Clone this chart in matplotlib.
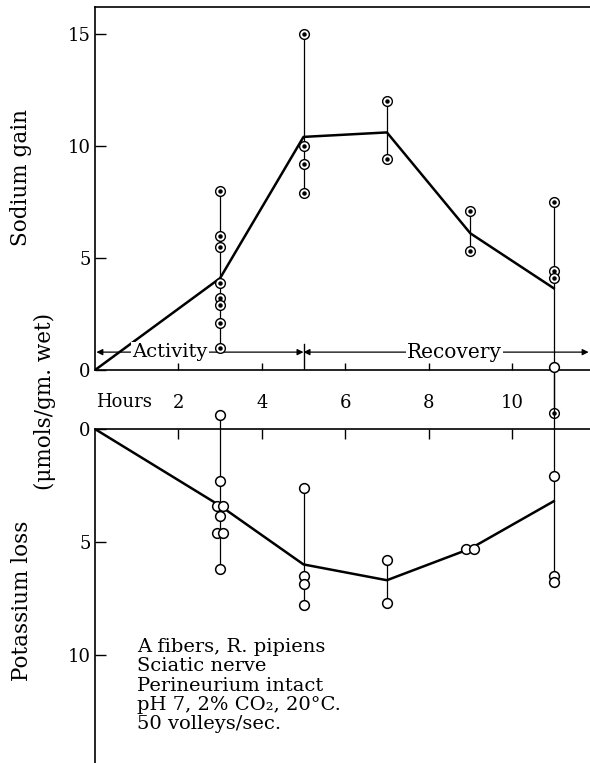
"""
Sodium gain / potassium loss of frog sciatic nerve during and after activity.
Two stacked panels sharing the hours axis; the lower one is drawn downwards.
"""

import numpy as np
import pandas as pd
import matplotlib
matplotlib.use("Agg")
import matplotlib.pyplot as plt

plt.rcParams["font.family"] = ["DejaVu Serif"]

# -- data --
na_pts_t = [3, 3, 3, 3, 3, 3, 3, 3, 5, 5, 5, 5, 7, 7, 9, 9, 11, 11, 11, 11]
na_pts_v = [8.0, 6.0, 5.5, 3.9, 3.2, 2.9, 2.1, 1.0,
            15.0, 10.0, 9.2, 7.9, 12.0, 9.4, 7.1, 5.3, 7.5, 4.4, 4.1, -1.9]
na_mean_t = [0, 3, 5, 7, 9, 11]
na_mean_v = [0, 4.1, 10.4, 10.6, 6.1, 3.65]

k_pts_t = [3, 3, 2.92, 3.08, 3, 2.92, 3.08, 3, 5, 5, 5, 5, 7, 7, 8.9, 9.1, 11, 11, 11, 11]
k_pts_v = [-0.6, 2.3, 3.4, 3.4, 3.85, 4.6, 4.6, 6.2,
           2.6, 6.5, 6.85, 7.8, 5.8, 7.7, 5.3, 5.3, -2.75, 2.1, 6.5, 6.8]
k_mean_t = [0, 3, 5, 7, 9, 11]
k_mean_v = [0, 3.4, 6.0, 6.7, 5.3, 3.2]

hour_ticks = [2, 4, 6, 8, 10]
na_ticks = [0, 5, 10, 15]
k_ticks = [0, 5, 10]
activity_end = 5

notes = ("A fibers, R. pipiens\nSciatic nerve\nPerineurium intact\n"
         "pH 7, 2% CO\u2082, 20\u00b0C.\n50 volleys/sec.")

XMAX = 11.87


def ranges(t, v):
    df = pd.DataFrame({"t": np.round(t), "v": v})
    return df.groupby("t")["v"].agg(["min", "max"]).reset_index()


fig = plt.figure(figsize=(5.9, 7.63), dpi=100)
ax1 = fig.add_axes([0.161, 0.515, 0.839, 0.476])
ax2 = fig.add_axes([0.161, 0.0, 0.839, 0.4377])

# -- Top panel: sodium gain --
for _, r in ranges(na_pts_t, na_pts_v).iterrows():
    ax1.plot([r["t"], r["t"]], [r["min"], r["max"]], color="black", lw=0.9, clip_on=False, zorder=2)
ax1.plot(na_mean_t, na_mean_v, color="black", lw=1.8, zorder=3)
ax1.plot(na_pts_t, na_pts_v, "o", ms=7, mfc="white", mec="black", mew=1.0, clip_on=False, zorder=4)
ax1.plot(na_pts_t, na_pts_v, "o", ms=2.2, color="black", clip_on=False, zorder=5)

ax1.set_xlim(0, XMAX)
ax1.set_ylim(0, 16.2)
ax1.spines["right"].set_visible(False)
ax1.set_xticks(hour_ticks)
ax1.set_xticklabels([])
ax1.tick_params(axis="x", direction="in", length=5, width=1)
ax1.set_yticks(na_ticks)
ax1.set_yticklabels([str(v) for v in na_ticks], fontsize=13)
ax1.tick_params(axis="y", direction="in", length=8, width=1, pad=3)
for s in ax1.spines.values():
    s.set_linewidth(1.2)

# activity / recovery arrows
arr_y = 0.8
ax1.plot([activity_end, activity_end], [0, 1.15], color="black", lw=1.0)
ax1.annotate("", xy=(0, arr_y), xytext=(activity_end, arr_y),
             arrowprops=dict(arrowstyle="<|-|>", color="black", lw=0.9, mutation_scale=9,
                             shrinkA=0, shrinkB=1))
ax1.annotate("", xy=(activity_end, arr_y), xytext=(XMAX, arr_y),
             arrowprops=dict(arrowstyle="<|-|>", color="black", lw=0.9, mutation_scale=9,
                             shrinkA=1, shrinkB=0), annotation_clip=False)
ax1.text(1.8, arr_y, "Activity", ha="center", va="center", fontsize=14,
         bbox=dict(facecolor="white", edgecolor="none", pad=1), zorder=6)
ax1.text(8.62, arr_y, "Recovery", ha="center", va="center", fontsize=14.5,
         bbox=dict(facecolor="white", edgecolor="none", pad=1), zorder=6)

# -- Bottom panel: potassium loss (downwards) --
for _, r in ranges(k_pts_t, k_pts_v).iterrows():
    ax2.plot([r["t"], r["t"]], [r["min"], r["max"]], color="black", lw=0.9, clip_on=False, zorder=2)
ax2.plot(k_mean_t, k_mean_v, color="black", lw=1.8, zorder=3)
ax2.plot(k_pts_t, k_pts_v, "o", ms=7, mfc="white", mec="black", mew=1.1, clip_on=False, zorder=4)

ax2.set_xlim(0, XMAX)
ax2.set_ylim(14.8, 0)
ax2.spines["right"].set_visible(False)
ax2.spines["bottom"].set_visible(False)
ax2.xaxis.tick_top()
ax2.set_xticks(hour_ticks)
ax2.set_xticklabels([str(h) for h in hour_ticks], fontsize=13)
ax2.tick_params(axis="x", direction="in", length=7, width=1, pad=12)
ax2.set_yticks(k_ticks)
ax2.set_yticklabels([str(v) for v in k_ticks], fontsize=13)
ax2.tick_params(axis="y", direction="in", length=8, width=1, pad=3)
for s in ax2.spines.values():
    s.set_linewidth(1.2)
ax2.text(0.02, -1.2, "Hours", ha="left", va="center", fontsize=13, clip_on=False)

ax2.text(1.0, 9.25, notes, ha="left", va="top", fontsize=14, linespacing=1.1)

# -- axis titles --
fig.text(0.036, 0.767, "Sodium gain", rotation=90, ha="center", va="center", fontsize=15.5)
fig.text(0.038, 0.212, "Potassium loss", rotation=90, ha="center", va="center", fontsize=15.5)
fig.text(0.076, 0.474, "(\u03bcmols/gm. wet)", rotation=90, ha="center", va="center", fontsize=15.5)

fig.savefig("out.png", dpi=100)
plt.close(fig)
